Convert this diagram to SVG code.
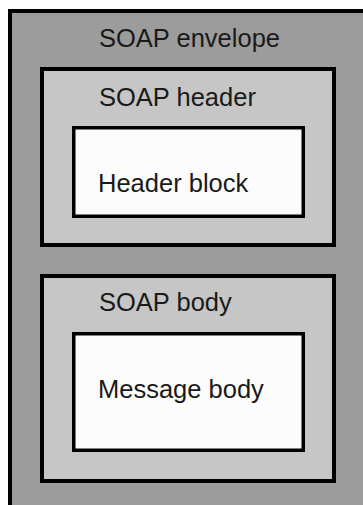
<svg xmlns="http://www.w3.org/2000/svg" width="363" height="505" viewBox="0 0 363 505">
  <style>
    .env { fill: #9c9c9c; stroke: #000; stroke-width: 4; }
    .box { fill: #c6c6c6; stroke: #000; stroke-width: 4; }
    .blk { fill: #fcfcfc; stroke: #000; stroke-width: 3.5; }
    .lbl { font-family: "Liberation Sans", Arial, sans-serif; font-size: 25.5px; fill: #1a1a1a; }
  </style>
  <rect width="363" height="505" fill="#ffffff"/>
  <g id="envelope">
    <rect class="env" x="10" y="11" width="360" height="510"/>
    <text class="lbl" x="99" y="46.5">SOAP envelope</text>
  </g>
  <g id="header">
    <rect class="box" x="42" y="69" width="292" height="176"/>
    <text class="lbl" x="99" y="106">SOAP header</text>
  </g>
  <g id="header-block">
    <rect class="blk" x="73.75" y="127.75" width="229.5" height="88.5"/>
    <text class="lbl" x="98" y="192">Header block</text>
  </g>
  <g id="body">
    <rect class="box" x="42" y="276" width="292" height="205"/>
    <text class="lbl" x="99" y="311">SOAP body</text>
  </g>
  <g id="message-body">
    <rect class="blk" x="73.75" y="333.75" width="229.5" height="116.5"/>
    <text class="lbl" x="98" y="398">Message body</text>
  </g>
  <g id="connectors"/>
</svg>
